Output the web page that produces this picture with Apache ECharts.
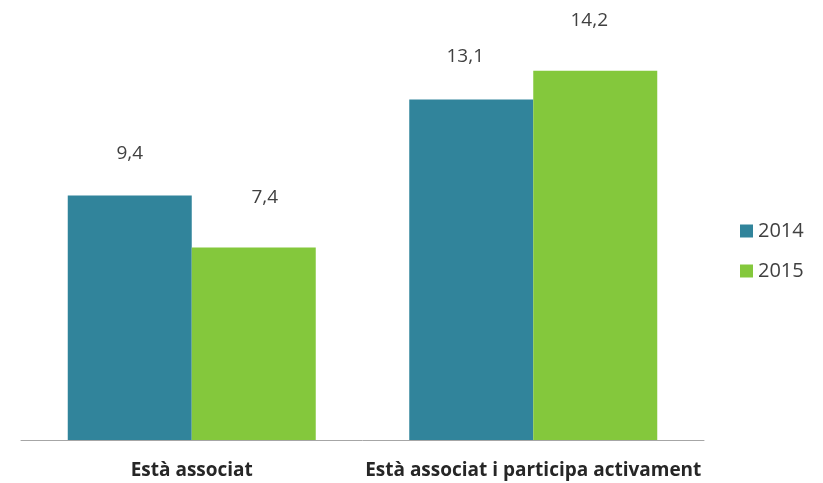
<!DOCTYPE html>
<html><head><meta charset="utf-8">
<script src="https://cdn.jsdelivr.net/npm/echarts@6/dist/echarts.min.js"></script>
<style>html,body{margin:0;padding:0;background:#fff}#c{width:823px;height:483px}</style>
</head><body><div id="c"></div>
<script>
const categories = ['Està associat', 'Està associat i participa activament'];
const seriesNames = ['2014', '2015'];
const values2014 = [9.4, 13.1];
const values2015 = [7.4, 14.2];

const chart = echarts.init(document.getElementById('c'));
const fmt = p => String(p.value).replace('.', ',');
const font = '"Open Sans", "Noto Sans", sans-serif';
const labelBase = { show: true, position: 'top', formatter: fmt, fontSize: 19, color: '#404040', fontFamily: font };
chart.setOption({
  animation: false,
  textStyle: { fontFamily: font },
  grid: { left: 21, right: 119, top: 24, bottom: 43 },
  legend: {
    orient: 'vertical', left: 735, top: 216, itemGap: 20, itemWidth: 13, itemHeight: 13, icon: 'rect',
    textStyle: { fontSize: 20, color: '#404040', fontFamily: font },
    data: seriesNames
  },
  xAxis: {
    type: 'category', data: categories,
    axisLine: { lineStyle: { color: '#a6a6a6', width: 1 } },
    axisTick: { show: false },
    axisLabel: { interval: 0, fontSize: 19, fontWeight: 'bold', color: '#262626', margin: 21, fontFamily: font }
  },
  yAxis: { type: 'value', min: 0, max: 16, show: false, splitLine: { show: false } },
  series: [
    { name: seriesNames[0], type: 'bar', barWidth: 124, barGap: '0%',
      itemStyle: { color: '#31849b' },
      data: values2014.map((v, i) => ({ value: v, label: [{ offset: [0, 0] }, { offset: [-6, 0] }][i] })),
      label: Object.assign({}, labelBase, { distance: 33 }) },
    { name: seriesNames[1], type: 'bar', barWidth: 124,
      itemStyle: { color: '#84c83c' },
      data: values2015.map((v, i) => ({ value: v, label: [{ offset: [11, 0] }, { offset: [-6, 0] }][i] })),
      label: Object.assign({}, labelBase, { distance: 41 }) }
  ]
});
</script></body></html>
